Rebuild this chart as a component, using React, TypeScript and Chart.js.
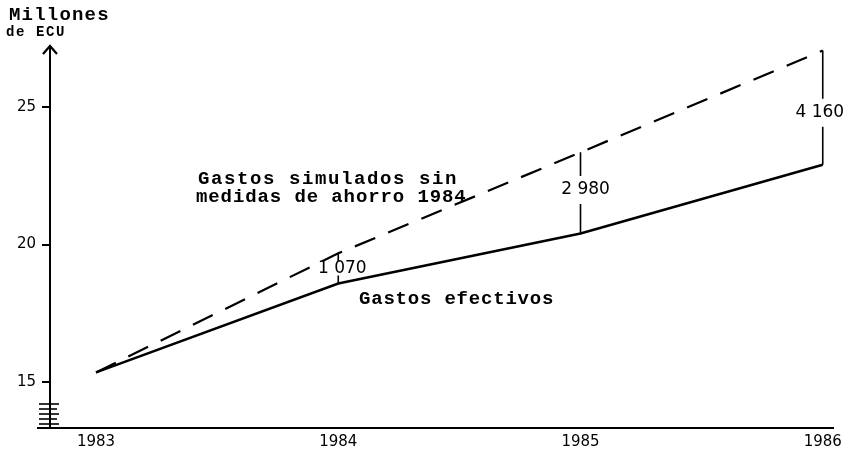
import React, { useEffect, useRef } from "react";
import { Chart, registerables } from "chart.js";

Chart.register(...registerables);

const years = [1983, 1984, 1985, 1986];
const actualSpending = [15.35, 18.58, 20.4, 22.9];
const simulatedSpending = [15.35, 19.68, 23.35, 27.05];
const diffYears = [1984, 1985, 1986];
const diffLabels = ["1 070", "2 980", "4 160"];
const yTicks = [15, 20, 25];
const yTitle = ["Millones", "de ECU"];
const simulatedText = ["Gastos simulados sin", "medidas de ahorro 1984"];
const actualText = "Gastos efectivos";

const MONO = '"Liberation Mono", "DejaVu Sans Mono", monospace';
const SANS = '"DejaVu Sans", sans-serif';

function spaced(ctx: CanvasRenderingContext2D, text: string, x: number, y: number, pitch: number) {
  ctx.textAlign = "left";
  for (let i = 0; i < text.length; i++) ctx.fillText(text[i], x + i * pitch, y);
}

const decorPlugin = {
  id: "decor",
  beforeDraw(chart: any) {
    const ctx = chart.ctx;
    ctx.save();
    ctx.fillStyle = "#fff";
    ctx.fillRect(0, 0, chart.width, chart.height);
    ctx.restore();
  },
  afterDraw(chart: any) {
    const ctx: CanvasRenderingContext2D = chart.ctx;
    const xs = chart.scales.x;
    const ys = chart.scales.y;
    const area = chart.chartArea;
    ctx.save();
    ctx.strokeStyle = "#000";
    ctx.fillStyle = "#000";
    ctx.lineCap = "butt";

    // x-axis extension to the left
    ctx.lineWidth = 2;
    ctx.beginPath();
    ctx.moveTo(area.left - 13, area.bottom);
    ctx.lineTo(area.left, area.bottom);
    ctx.stroke();

    // arrow on y axis
    ctx.beginPath();
    ctx.moveTo(area.left - 7, area.top + 7);
    ctx.lineTo(area.left, area.top - 1);
    ctx.lineTo(area.left + 7, area.top + 7);
    ctx.lineWidth = 2.2;
    ctx.stroke();

    // axis break marks
    ctx.lineWidth = 1.6;
    for (let k = 0; k < 5; k++) {
      const yy = area.bottom - 4 - k * 5;
      ctx.beginPath();
      ctx.moveTo(area.left - 11, yy);
      ctx.lineTo(area.left + 9 - (k % 2) * 2, yy);
      ctx.stroke();
    }

    // difference lines and labels
    const xOff = [4, 5, -3];
    const yOff = [0, -3, 5];
    ctx.lineWidth = 1.6;
    ctx.font = `17px ${SANS}`;
    ctx.textAlign = "center";
    ctx.textBaseline = "middle";
    diffYears.forEach((yr, i) => {
      const idx = years.indexOf(yr);
      const px = xs.getPixelForValue(yr);
      const yTop = ys.getPixelForValue(simulatedSpending[idx]);
      const yBot = ys.getPixelForValue(actualSpending[idx]);
      const mid = (yTop + yBot) / 2 + yOff[i];
      const gap = i === 0 ? 7 : 14;
      ctx.beginPath();
      ctx.moveTo(px, yTop);
      ctx.lineTo(px, mid - gap);
      ctx.moveTo(px, mid + gap);
      ctx.lineTo(px, yBot);
      ctx.stroke();
      ctx.fillText(diffLabels[i], px + xOff[i], mid);
    });

    // typewriter texts
    ctx.textBaseline = "middle";
    ctx.font = `bold 19px ${MONO}`;
    spaced(ctx, yTitle[0], 9, 15, 12.6);
    ctx.font = `bold 14px ${MONO}`;
    spaced(ctx, yTitle[1], 6, 32, 10);

    ctx.font = `bold 19px ${MONO}`;
    spaced(ctx, simulatedText[0], 198, 179, 13.0);
    spaced(ctx, simulatedText[1], 196, 197, 12.3);
    spaced(ctx, actualText, 359, 299, 12.2);

    ctx.restore();
  },
};

export default function App() {
  const ref = useRef<HTMLCanvasElement | null>(null);
  useEffect(() => {
    if (!ref.current) return;
    const chart = new Chart(ref.current, {
      type: "line",
      data: {
        datasets: [
          {
            label: "Gastos simulados",
            data: years.map((x, i) => ({ x, y: simulatedSpending[i] })),
            borderColor: "#000",
            borderWidth: 2.2,
            borderDash: [22, 14],
            pointRadius: 0,
            tension: 0,
            fill: false,
          },
          {
            label: "Gastos efectivos",
            data: years.map((x, i) => ({ x, y: actualSpending[i] })),
            borderColor: "#000",
            borderWidth: 2.5,
            pointRadius: 0,
            tension: 0,
            fill: false,
          },
        ],
      },
      options: {
        responsive: false,
        animation: false,
        devicePixelRatio: 1,
        layout: { padding: { top: 47, right: 12, left: 0, bottom: 0 } },
        plugins: { legend: { display: false }, tooltip: { enabled: false }, title: { display: false } },
        scales: {
          x: {
            type: "linear",
            min: 1982.81,
            max: 1986.045,
            afterBuildTicks: (s: any) => {
              s.ticks = years.map((v) => ({ value: v }));
            },
            afterFit: (s: any) => {
              s.height = 22;
            },
            ticks: {
              autoSkip: false,
              maxRotation: 0,
              padding: 5,
              color: "#000",
              font: { family: "DejaVu Sans", size: 15 },
              callback: (v: any) => String(v),
            },
            grid: { display: true, drawOnChartArea: false, drawTicks: false },
            border: { display: true, color: "#000", width: 2 },
          },
          y: {
            type: "linear",
            min: 13.33,
            max: 27.18,
            afterBuildTicks: (s: any) => {
              s.ticks = yTicks.map((v) => ({ value: v }));
            },
            afterFit: (s: any) => {
              s.width = 50;
            },
            ticks: {
              padding: 6,
              color: "#000",
              font: { family: "DejaVu Sans", size: 15 },
              callback: (v: any) => String(v),
            },
            grid: { display: true, drawOnChartArea: false, drawTicks: true, tickLength: 8, color: "#000", lineWidth: 2 },
            border: { display: true, color: "#000", width: 2 },
          },
        },
      },
      plugins: [decorPlugin],
    });
    return () => chart.destroy();
  }, []);
  return (
    <div style={{ position: "fixed", left: 0, top: 0, width: 847, height: 450, background: "#fff" }}>
      <canvas ref={ref} width={847} height={450} style={{ display: "block" }} />
    </div>
  );
}
